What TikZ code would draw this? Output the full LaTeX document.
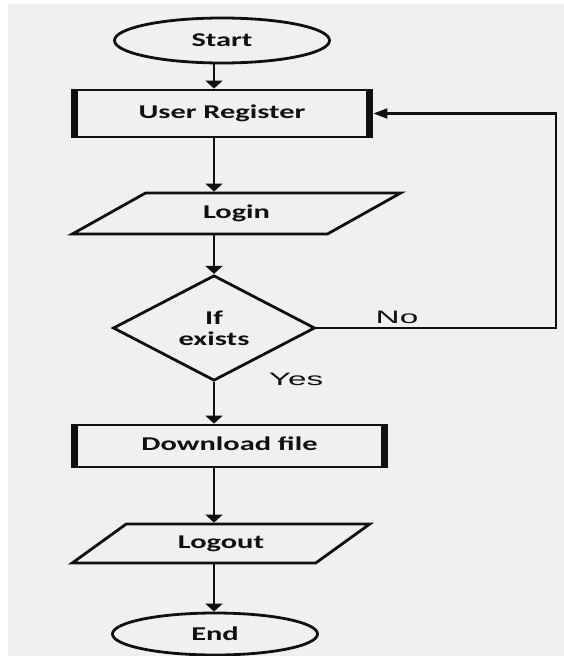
\documentclass[tikz,border=0pt]{standalone}
\usepackage{fontspec}
\setmainfont{Carlito}
\newfontfamily\lblfont{Liberation Sans}
\usetikzlibrary{shapes.geometric,arrows.meta,calc}
\newcommand\wtx[1]{\scalebox{1.56}[1]{\bfseries #1}}
\newcommand\wlb[1]{\scalebox{1.85}[1]{#1}}
\definecolor{bg}{HTML}{F0F0F0}
\definecolor{ink}{HTML}{101010}
\begin{document}
\begin{tikzpicture}[x=1pt,y=-1pt,
  shapeline/.style={draw=ink, line width=2.8pt, inner sep=0pt, font=\fontsize{19.5}{21}\selectfont, text=ink},
  termbox/.style={shapeline, ellipse},
  procbox/.style={shapeline, rectangle, path picture={
     \fill[ink] (path picture bounding box.north west) rectangle ([xshift=6pt]path picture bounding box.south west);
     \fill[ink] (path picture bounding box.north east) rectangle ([xshift=-6pt]path picture bounding box.south east);}},
  iobox/.style={shapeline, trapezium, trapezium stretches=true},
  decbox/.style={shapeline, diamond, align=center},
  flow/.style={draw=ink, line width=2.6pt, -{Triangle[length=8pt,width=17pt]}},
  back/.style={draw=ink, line width=2.2pt, line join=miter, -{Triangle[length=14pt,width=10pt]}},
  lbl/.style={font=\lblfont\fontsize{18}{20}\selectfont, text=ink, inner sep=0pt}
]
\fill[bg] (8,4) rectangle (564,656);
\useasboundingbox (0,0) rectangle (564,656);

\node[termbox, minimum width=215pt, minimum height=45pt] (start) at (222,40.5) {\wtx{Start}};
\node[procbox, minimum width=300pt, minimum height=47pt] (ureg) at (222,113.5) {\raisebox{4pt}{\wtx{User Register}}};
\node[iobox, trapezium left angle=32.2, trapezium right angle=147.8, minimum width=329pt, minimum height=41pt] (login) at (236.5,213.5) {\wtx{Login}};
\node[decbox, minimum width=202pt, minimum height=86pt] (dec) at (214,328) {\wtx{If}\\\wtx{exists}};
\node[procbox, minimum width=315pt, minimum height=42pt] (down) at (229.5,446) {\raisebox{5pt}{\wtx{Download file}}};
\node[iobox, trapezium left angle=33, trapezium right angle=147, minimum width=298pt, minimum height=39pt] (logout) at (221,543.5) {\wtx{Logout}};
\node[termbox, minimum width=205pt, minimum height=42pt] (end) at (215,634) {\wtx{End}};

\node[lbl] (no) at (397,317.5) {\wlb{No}};
\node[lbl] (yes) at (296,379) {\wlb{Yes}};

\coordinate (col) at (214,0);
\coordinate (loop) at (556,220);

\draw[flow] (start.south -| col) -- (ureg.north -| col);
\draw[flow] (ureg.south -| col) -- (login.north -| col);
\draw[flow] (login.south -| col) -- (dec.north);
\draw[flow] (dec.south) -- (down.north -| col);
\draw[flow] (down.south -| col) -- (logout.north -| col);
\draw[flow] (logout.south -| col) -- (end.north -| col);
\draw[back] (dec.east) -| (loop) |- (ureg.east);
\end{tikzpicture}
\end{document}
